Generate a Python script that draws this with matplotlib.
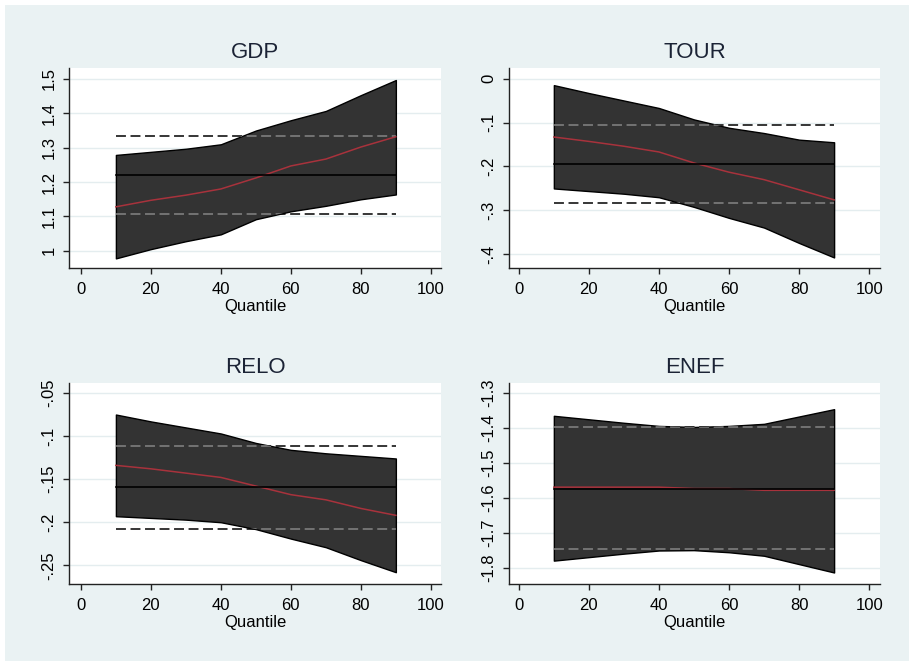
import numpy as np
import matplotlib
matplotlib.use("Agg")
import matplotlib.pyplot as plt
from matplotlib.patches import Rectangle

plt.rcParams['font.family'] = ['Liberation Sans', 'DejaVu Sans']

# quantiles at which the regressions were run
quantiles = [10, 20, 30, 40, 50, 60, 70, 80, 90]

# GDP
gdp_coef = [1.128, 1.147, 1.162, 1.180, 1.212, 1.247, 1.267, 1.302, 1.332]
gdp_lo = [0.978, 1.005, 1.028, 1.048, 1.092, 1.115, 1.131, 1.150, 1.164]
gdp_hi = [1.279, 1.288, 1.297, 1.310, 1.350, 1.380, 1.407, 1.453, 1.497]
gdp_ols = [1.221, 1.107, 1.333]  # estimate, lower, upper

# TOUR
tour_coef = [-0.133, -0.143, -0.154, -0.167, -0.192, -0.213, -0.230, -0.253, -0.276]
tour_lo = [-0.250, -0.256, -0.262, -0.270, -0.292, -0.317, -0.339, -0.374, -0.407]
tour_hi = [-0.015, -0.033, -0.050, -0.067, -0.093, -0.112, -0.124, -0.139, -0.145]
tour_ols = [-0.195, -0.283, -0.106]

# RELO
relo_coef = [-0.134, -0.138, -0.143, -0.148, -0.158, -0.168, -0.174, -0.184, -0.192]
relo_lo = [-0.193, -0.195, -0.197, -0.200, -0.208, -0.219, -0.229, -0.244, -0.258]
relo_hi = [-0.075, -0.083, -0.090, -0.097, -0.108, -0.116, -0.120, -0.123, -0.126]
relo_ols = [-0.159, -0.208, -0.112]

# ENEF
enef_coef = [-1.5695, -1.5695, -1.5695, -1.5695, -1.5735, -1.5735, -1.5785, -1.5785, -1.5785]
enef_lo = [-1.780, -1.770, -1.760, -1.751, -1.750, -1.756, -1.766, -1.790, -1.814]
enef_hi = [-1.365, -1.375, -1.385, -1.394, -1.397, -1.394, -1.388, -1.367, -1.346]
enef_ols = [-1.5735, -1.748, -1.398]

# y ticks as Stata prints them
gdp_ticks = [1.0, 1.1, 1.2, 1.3, 1.4, 1.5]
gdp_labels = ["1", "1.1", "1.2", "1.3", "1.4", "1.5"]
tour_ticks = [0.0, -0.1, -0.2, -0.3, -0.4]
tour_labels = ["0", "-.1", "-.2", "-.3", "-.4"]
relo_ticks = [-0.05, -0.10, -0.15, -0.20, -0.25]
relo_labels = ["-.05", "-.1", "-.15", "-.2", "-.25"]
enef_ticks = [-1.3, -1.4, -1.5, -1.6, -1.7, -1.8]
enef_labels = ["-1.3", "-1.4", "-1.5", "-1.6", "-1.7", "-1.8"]

x_ticks = [0, 20, 40, 60, 80, 100]

panels = [
    ("GDP", gdp_coef, gdp_lo, gdp_hi, gdp_ols, gdp_ticks, gdp_labels, (0.950, 1.532)),
    ("TOUR", tour_coef, tour_lo, tour_hi, tour_ols, tour_ticks, tour_labels, (-0.431, 0.024)),
    ("RELO", relo_coef, relo_lo, relo_hi, relo_ols, relo_ticks, relo_labels, (-0.2717, -0.0384)),
    ("ENEF", enef_coef, enef_lo, enef_hi, enef_ols, enef_ticks, enef_labels, (-1.847, -1.271)),
]

# axes rectangles in pixels: left, top, right, bottom
W, H = 909, 661
rects_px = [(69, 68, 441, 268), (509, 68, 880, 268),
            (69, 383, 441, 584), (509, 383, 880, 584)]
xlims = [(-3.4, 102.9), (-2.8, 103.1), (-3.4, 102.9), (-2.8, 103.1)]

bg = '#EAF2F3'
fill_col = '#333333'
red = '#A8323C'

fig = plt.figure(figsize=(W / 100, H / 100), dpi=100, facecolor='white')
fig.patches.append(Rectangle((5 / W, 0), 1, 1 - 5 / H, transform=fig.transFigure,
                             facecolor=bg, edgecolor='none', zorder=-10))

for (title, coef, lo, hi, ols, yt, ytl, ylim), (l, t, r, b), xl in zip(panels, rects_px, xlims):
    ax = fig.add_axes([l / W, 1 - b / H, (r - l) / W, (b - t) / H])
    ax.set_facecolor('white')
    ax.set_xlim(*xl)
    ax.set_ylim(*ylim)

    # OLS confidence bounds (black on white)
    for v in ols[1:]:
        ax.plot([quantiles[0], quantiles[-1]], [v, v], color='black', lw=1.1,
                linestyle=(0, (6.5, 3)), zorder=2)

    band = ax.fill_between(quantiles, lo, hi, facecolor=fill_col, edgecolor='black',
                           linewidth=1.0, zorder=3)
    clip = band.get_paths()[0]

    # same dashes show lighter over the dark band
    for v in ols[1:]:
        ln, = ax.plot([quantiles[0], quantiles[-1]], [v, v], color='#858585', lw=1.1,
                      linestyle=(0, (6.5, 3)), zorder=4)
        ln.set_clip_path(clip, ax.transData)

    ax.plot(quantiles, coef, color=red, lw=1.1, zorder=5)
    ax.plot([quantiles[0], quantiles[-1]], [ols[0], ols[0]], color='black', lw=1.2, zorder=6)

    ax.set_yticks(yt)
    ax.set_yticklabels(ytl, rotation=90, va='center')
    ax.set_xticks(x_ticks)
    ax.yaxis.grid(True, color='#E4EDEF', lw=1.0)
    ax.set_axisbelow(True)

    for s in ['top', 'right']:
        ax.spines[s].set_visible(False)
    for s in ['left', 'bottom']:
        ax.spines[s].set_color('#222222')
        ax.spines[s].set_linewidth(1.0)
    ax.tick_params(direction='out', length=4, width=1.0, color='#222222',
                   labelsize=12, labelcolor='black')
    ax.tick_params(axis='x', pad=6)
    ax.tick_params(axis='y', pad=5)

    ax.set_title(title, fontsize=16, color='#1b2335', pad=7)
    ax.set_xlabel('Quantile', fontsize=12, labelpad=1.5)

fig.savefig('out.png', dpi=100, facecolor=fig.get_facecolor())
plt.close(fig)
